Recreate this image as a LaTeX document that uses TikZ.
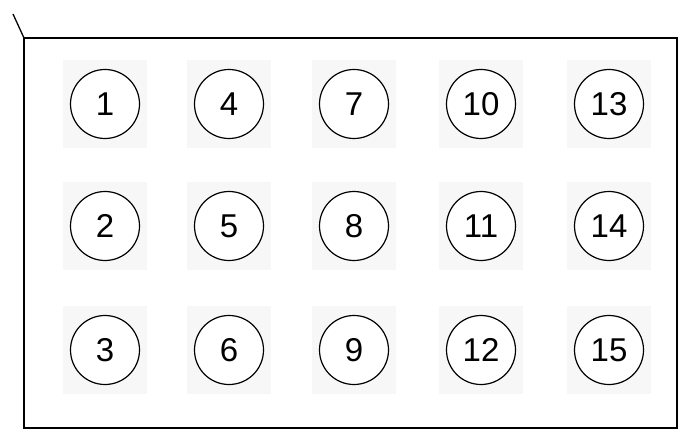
\documentclass[tikz,border=0pt]{standalone}
\usepackage{fontspec}
\setmainfont{Liberation Sans}
\usetikzlibrary{positioning}
\tikzset{
  plate/.style={draw=black, line width=1.8pt, inner sep=0pt, outer sep=0pt, minimum width=653pt, minimum height=390pt},
  well/.style={circle, draw=black, fill=white, line width=1.2pt, inner sep=0pt, minimum size=69pt, font=\fontsize{33}{33}\selectfont},
  haze/.style={fill=black!3, inner sep=0pt, minimum width=84pt, minimum height=88pt},
  marker/.style={draw=black, line width=1.3pt},
}
\begin{document}
\begin{tikzpicture}[x=1pt,y=-1pt]
\useasboundingbox (0,0) rectangle (684,438);
\node[plate] (plate) at (350.5,233) {};
\coordinate (tick) at (13,14);
\draw[marker] (tick) -- (plate.north west);

% wells, numbered down each column
\foreach \c/\x in {0/105,1/229,2/354,3/481,4/609}
  \foreach \r/\y in {0/104,1/226,2/350} {
    \pgfmathtruncatemacro\n{3*\c+\r+1}
    \node[haze] (haze\n) at (\x,\y) {};
    \node[well] (well\n) at (\x,\y) {\n};
  }
\end{tikzpicture}
\end{document}
